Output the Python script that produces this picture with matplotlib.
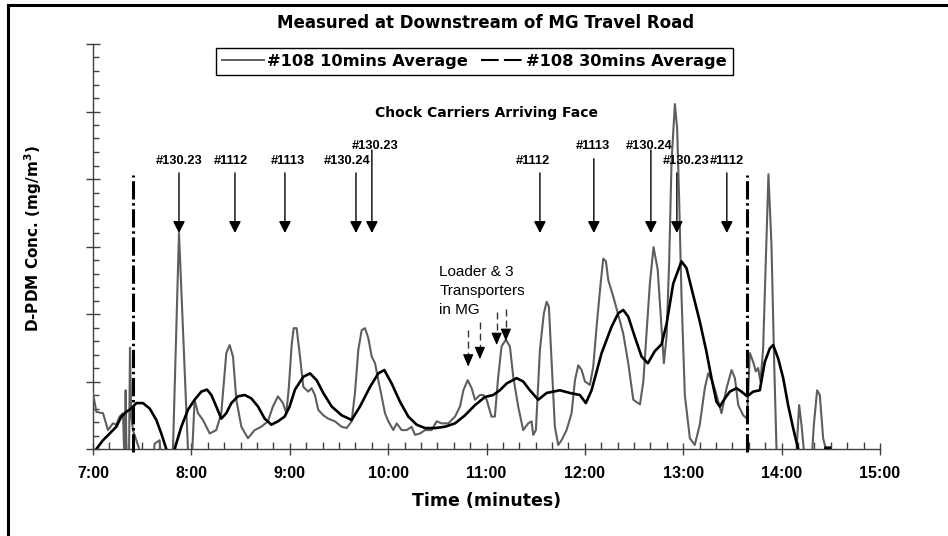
import matplotlib
matplotlib.use('Agg')
import matplotlib.pyplot as plt
from matplotlib.lines import Line2D
import numpy as np

# 10-minute rolling average (#108), time in decimal hours
t10 = [7.000, 7.034, 7.102, 7.152, 7.203, 7.237, 7.271, 7.305, 7.322, 7.332,
       7.342, 7.365, 7.376, 7.388, 7.406, 7.470, 7.500, 7.600, 7.627, 7.677,
       7.700, 7.790, 7.813, 7.874, 7.965, 7.990, 8.005, 8.033, 8.067, 8.118,
       8.186, 8.253, 8.304, 8.355, 8.389, 8.423, 8.457, 8.508, 8.575, 8.643,
       8.711, 8.778, 8.829, 8.880, 8.931, 8.965, 8.990, 9.020, 9.040, 9.070,
       9.104, 9.138, 9.188, 9.222, 9.256, 9.290, 9.341, 9.390, 9.459, 9.527,
       9.578, 9.629, 9.663, 9.697, 9.731, 9.765, 9.799, 9.833, 9.867, 9.900,
       9.934, 9.968, 10.002, 10.053, 10.087, 10.138, 10.189, 10.239, 10.273, 10.324,
       10.375, 10.442, 10.493, 10.544, 10.612, 10.680, 10.731, 10.765, 10.809, 10.849,
       10.883, 10.934, 10.968, 11.002, 11.051, 11.085, 11.119, 11.153, 11.197, 11.238,
       11.272, 11.322, 11.373, 11.424, 11.458, 11.475, 11.502, 11.543, 11.583, 11.611,
       11.634, 11.661, 11.695, 11.729, 11.763, 11.814, 11.865, 11.899, 11.933, 11.967,
       12.001, 12.051, 12.085, 12.119, 12.160, 12.187, 12.214, 12.238, 12.288, 12.339,
       12.390, 12.441, 12.492, 12.560, 12.594, 12.628, 12.661, 12.698, 12.740, 12.779,
       12.803, 12.830, 12.857, 12.881, 12.915, 12.938, 12.958, 12.982, 13.016, 13.067,
       13.117, 13.168, 13.219, 13.253, 13.297, 13.338, 13.389, 13.440, 13.491, 13.525,
       13.559, 13.609, 13.648, 13.677, 13.711, 13.738, 13.761, 13.785, 13.812, 13.839,
       13.866, 13.897, 13.924, 13.948, 13.960, 14.140, 14.178, 14.202, 14.225, 14.235,
       14.300, 14.327, 14.361, 14.388, 14.422, 14.449, 14.490]
v10 = [0.83, 0.55, 0.53, 0.28, 0.38, 0.36, 0.48, 0.53, -0.30, 0.87,
       -0.30, -0.30, 1.50, 0.50, 0.28, 0.00, -0.30, -0.30, 0.08, 0.13,
       -0.30, -0.30, 0.00, 3.20, 0.00, -0.15, -0.15, 0.73, 0.53, 0.43,
       0.23, 0.28, 0.53, 1.42, 1.54, 1.37, 0.73, 0.33, 0.16, 0.28,
       0.33, 0.41, 0.63, 0.78, 0.68, 0.53, 0.90, 1.55, 1.79, 1.79,
       1.37, 0.92, 0.85, 0.90, 0.80, 0.58, 0.50, 0.45, 0.41, 0.33,
       0.31, 0.41, 0.83, 1.47, 1.76, 1.79, 1.64, 1.37, 1.27, 1.02,
       0.78, 0.53, 0.41, 0.28, 0.38, 0.28, 0.28, 0.33, 0.21, 0.23,
       0.28, 0.28, 0.41, 0.38, 0.38, 0.48, 0.63, 0.87, 1.02, 0.90,
       0.73, 0.80, 0.80, 0.73, 0.48, 0.48, 1.07, 1.52, 1.62, 1.52,
       1.07, 0.63, 0.28, 0.38, 0.41, 0.21, 0.28, 1.47, 2.01, 2.18,
       2.11, 1.32, 0.33, 0.06, 0.13, 0.28, 0.53, 1.02, 1.24, 1.17,
       1.00, 0.95, 1.22, 1.81, 2.45, 2.82, 2.78, 2.50, 2.26, 1.99,
       1.71, 1.27, 0.73, 0.66, 1.00, 1.75, 2.46, 2.99, 2.66, 1.79,
       1.27, 1.66, 2.78, 4.26, 5.11, 4.75, 3.71, 2.28, 0.80, 0.16,
       0.06, 0.36, 0.90, 1.12, 1.00, 0.80, 0.53, 0.90, 1.17, 1.05,
       0.65, 0.50, 0.45, 1.42, 1.29, 1.15, 1.20, 1.00, 1.49, 2.78,
       4.07, 3.02, 1.29, 0.00, -0.30, -0.30, 0.65, 0.36, 0.00, -0.30,
       -0.30, 0.35, 0.87, 0.80, 0.16, 0.00, 0.00]

# 30-minute rolling average (#108)
t30 = [7.000, 7.034, 7.102, 7.170, 7.237, 7.288, 7.339, 7.389, 7.440, 7.508,
       7.576, 7.644, 7.694, 7.745, 7.770, 7.810, 7.830, 7.898, 7.965, 8.033,
       8.101, 8.159, 8.203, 8.253, 8.304, 8.355, 8.406, 8.474, 8.542, 8.609,
       8.677, 8.745, 8.813, 8.880, 8.948, 8.999, 9.053, 9.138, 9.206, 9.273,
       9.341, 9.426, 9.527, 9.629, 9.714, 9.816, 9.900, 9.961, 10.036, 10.121,
       10.205, 10.290, 10.375, 10.476, 10.578, 10.680, 10.782, 10.883, 10.984, 11.068,
       11.136, 11.204, 11.306, 11.373, 11.441, 11.526, 11.611, 11.746, 11.848, 11.949,
       12.010, 12.068, 12.170, 12.271, 12.339, 12.390, 12.441, 12.508, 12.576, 12.640,
       12.711, 12.779, 12.830, 12.898, 12.982, 13.033, 13.101, 13.168, 13.236, 13.287,
       13.338, 13.372, 13.423, 13.474, 13.541, 13.592, 13.650, 13.711, 13.778, 13.829,
       13.880, 13.914, 13.965, 14.016, 14.066, 14.117, 14.168, 14.190, 14.430, 14.445,
       14.490]
v30 = [-0.30, 0.00, 0.13, 0.23, 0.33, 0.48, 0.55, 0.60, 0.68, 0.68,
       0.60, 0.43, 0.23, 0.00, -0.30, -0.30, 0.00, 0.33, 0.58, 0.73,
       0.85, 0.88, 0.80, 0.63, 0.45, 0.53, 0.68, 0.78, 0.80, 0.75,
       0.63, 0.45, 0.36, 0.41, 0.48, 0.63, 0.88, 1.07, 1.12, 1.02,
       0.83, 0.63, 0.50, 0.43, 0.63, 0.92, 1.12, 1.17, 0.97, 0.70,
       0.48, 0.36, 0.31, 0.31, 0.33, 0.38, 0.50, 0.65, 0.77, 0.80,
       0.87, 0.97, 1.05, 1.00, 0.87, 0.73, 0.83, 0.87, 0.83, 0.80,
       0.68, 0.87, 1.42, 1.81, 2.01, 2.06, 1.96, 1.66, 1.37, 1.27,
       1.45, 1.55, 1.85, 2.45, 2.78, 2.68, 2.28, 1.89, 1.44, 1.05,
       0.70, 0.63, 0.75, 0.85, 0.90, 0.85, 0.78, 0.85, 0.87, 1.29,
       1.49, 1.54, 1.34, 1.05, 0.65, 0.31, 0.00, -0.30, -0.30, 0.02,
       0.02]

# chock carriers arriving at the face
carrier_ids = ['#130.23', '#1112', '#1113', '#130.24', '#130.23',
               '#1112', '#1113', '#130.24', '#130.23', '#1112']
carrier_times = [7.874, 8.443, 8.951, 9.673, 9.835,
                 11.543, 12.091, 12.671, 12.935, 13.443]
label_times = [7.874, 8.402, 8.982, 9.581, 9.866,
               11.472, 12.081, 12.650, 13.026, 13.443]
label_row = [0, 0, 0, 0, 1, 0, 1, 1, 0, 0]      # 1 = raised label
arrow_top = [4.09, 4.09, 4.09, 4.09, 4.43, 4.09, 4.30, 4.43, 4.09, 4.09]

# loader & transporters in MG (dashed arrows)
loader_times = [10.814, 10.933, 11.103, 11.197]
loader_top = [1.76, 1.88, 2.03, 2.07]
loader_tip = [1.22, 1.33, 1.54, 1.60]

# shift window markers
shift_marks = [7.407, 13.653]

hours = list(range(7, 16))
hour_labels = ['%d:00' % h for h in hours]

W, H = 948, 536
fig = plt.figure(figsize=(W / 100, H / 100), dpi=100)
ax = fig.add_axes([93 / W, 1 - 449 / H, 787 / W, 405 / H])

gray = '#5e5e5e'
ax.plot(t10, v10, color=gray, lw=1.5, zorder=3)
ax.plot(t30, v30, color='black', lw=1.9, zorder=4)

for t in shift_marks:
    ax.plot([t, t], [-0.05, 4.06], color='black', lw=2.2,
            dashes=(6, 1.2, 0.8, 1.2), clip_on=False, zorder=5)

tip = 3.2
for name, t, lt, row, top in zip(carrier_ids, carrier_times, label_times,
                                  label_row, arrow_top):
    ax.annotate('', xy=(t, tip), xytext=(t, top),
                arrowprops=dict(arrowstyle='-|>,head_length=0.7,head_width=0.36',
                                color='black', lw=1.0, shrinkA=0, shrinkB=0,
                                mutation_scale=10), zorder=6)
    ax.text(lt, 4.444 if row else 4.222, name, ha='center', va='baseline',
            fontsize=9.3, fontweight='bold', family='Liberation Sans')

for t, top, tp in zip(loader_times, loader_top, loader_tip):
    ax.plot([t, t], [top, tp + 0.1], color='#333333', lw=1.0,
            dashes=(5, 3), zorder=6)
    ax.annotate('', xy=(t, tp), xytext=(t, tp + 0.16),
                arrowprops=dict(arrowstyle='-|>,head_length=0.75,head_width=0.32',
                                color='black', lw=0.8, shrinkA=0, shrinkB=0,
                                mutation_scale=10), zorder=6)

ax.text(10.52, 2.73, 'Loader & 3\nTransporters\nin MG', ha='left', va='top',
        fontsize=11, family='Liberation Sans', linespacing=1.45)
ax.text(0.5, (449 - 117) / 405, 'Chock Carriers Arriving Face',
        transform=ax.transAxes, ha='center', va='baseline',
        fontsize=10, fontweight='bold')

ax.set_xlim(7, 15)
ax.set_ylim(0, 6)
ax.set_xticks(hours)
ax.set_xticklabels(hour_labels, fontsize=11.5, fontweight='bold',
                   family='Liberation Sans')
ax.set_xticks(np.arange(7, 15, 1 / 6), minor=True)
ax.set_yticks(np.arange(0, 6.01, 1))
ax.set_yticks(np.arange(0, 6.01, 0.2), minor=True)
ax.tick_params(axis='x', which='major', direction='inout', length=9,
               width=1, color='#404040', pad=8)
ax.tick_params(axis='x', which='minor', direction='in', length=5,
               width=1, color='#404040')
ax.tick_params(axis='y', which='major', direction='inout', length=10,
               width=1, color='#404040', labelleft=False)
ax.tick_params(axis='y', which='minor', direction='in', length=4,
               width=1, color='#404040')
for s in ['top', 'right']:
    ax.spines[s].set_visible(False)
for s in ['left', 'bottom']:
    ax.spines[s].set_color('#404040')
    ax.spines[s].set_linewidth(1.0)

ax.set_xlabel('Time (minutes)', fontsize=12.5, fontweight='bold')
ax.xaxis.set_label_coords(0.5, -0.1074)
ax.set_ylabel(r'D-PDM Conc. (mg/m$^\mathbf{3}$)', fontsize=11,
              fontweight='bold')
ax.yaxis.set_label_coords(-0.0623, 0.5185)

fig.text(486 / W, 1 - 28 / H, 'Measured at Downstream of MG Travel Road',
         ha='center', va='baseline', fontsize=12, fontweight='bold')

handles = [Line2D([], [], color=gray, lw=1.4),
           Line2D([], [], color='black', lw=1.5, dashes=(8.5, 2.5))]
leg = fig.legend(handles, ['#108 10mins Average', '#108 30mins Average'],
                 loc='center', bbox_to_anchor=(474.5 / W, 1 - 61.5 / H),
                 ncol=2, fancybox=False, framealpha=1, edgecolor='black',
                 prop={'size': 11.7, 'weight': 'bold'}, handlelength=2.6,
                 handletextpad=0.18, columnspacing=0.8, borderpad=0.35,
                 borderaxespad=0)
leg.get_frame().set_linewidth(1.0)

# outer chart border (cut off at right and bottom)
fig.add_artist(Line2D([8 / W, 8 / W], [0, 1 - 5 / H], color='black', lw=2.2,
                      transform=fig.transFigure))
fig.add_artist(Line2D([8 / W, 1], [1 - 5 / H, 1 - 5 / H], color='black',
                      lw=2.2, transform=fig.transFigure))

fig.savefig('out.png', dpi=100)
